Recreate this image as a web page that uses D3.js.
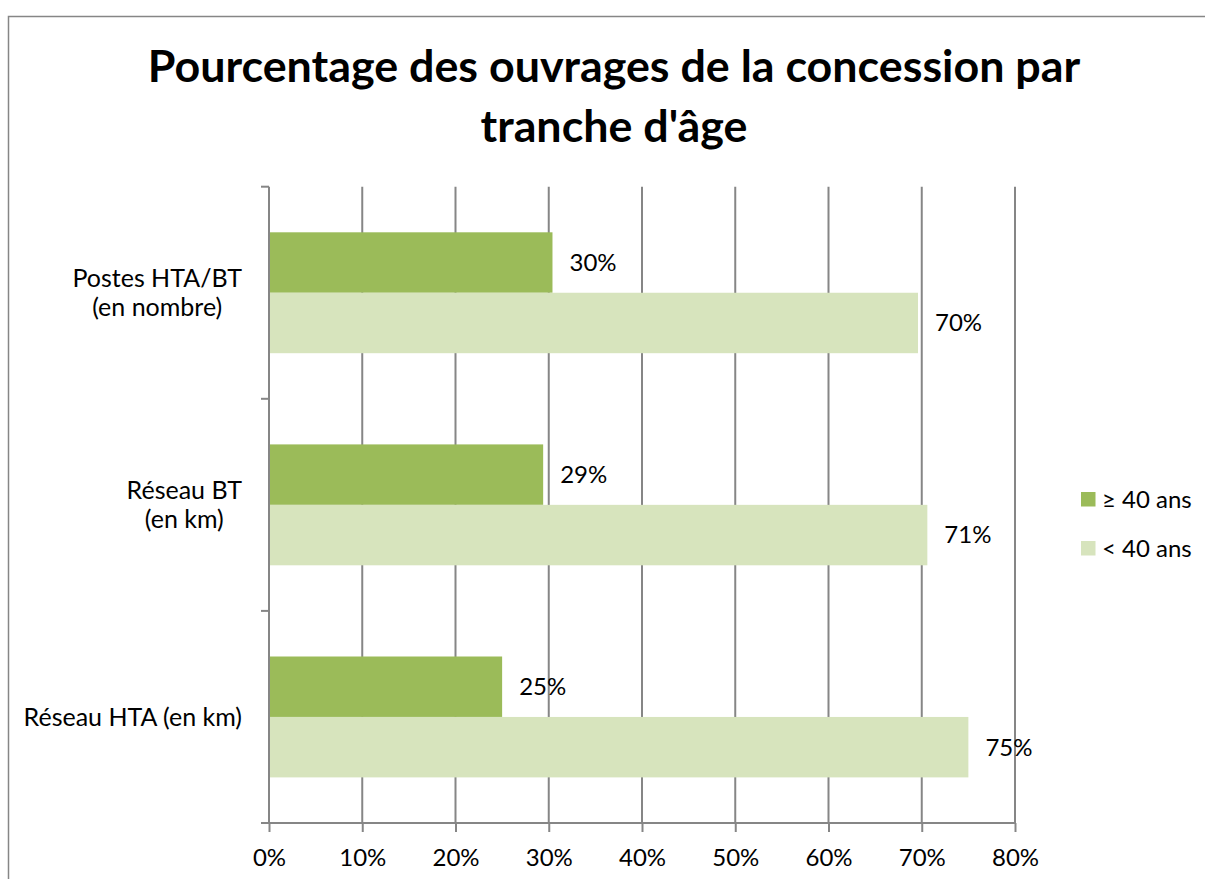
<!DOCTYPE html>
<html>
<head>
<meta charset="utf-8">
<script src="https://cdn.jsdelivr.net/npm/d3@7"></script>
<style>
  body { margin: 0; background: #fff; overflow: hidden; }
  svg { display: block; }
  text { font-family: Lato, "Open Sans", sans-serif; fill: #000; }
</style>
</head>
<body>
<div class="chart"></div>
<script>
// categories (top to bottom), line breaks as in the original labels
const categories = ["Postes HTA/BT\n(en nombre)", "Réseau BT\n(en km)", "Réseau HTA (en km)"]
const seriesNames = ["≥ 40 ans", "< 40 ans"]
const over40 = [0.304, 0.294, 0.25]
const under40 = [0.696, 0.706, 0.75]
const xTicks = [0, 0.1, 0.2, 0.3, 0.4, 0.5, 0.6, 0.7, 0.8]
const titleLines = ["Pourcentage des ouvrages de la concession par", "tranche d'âge"]

const W = 1205, H = 879
const plot = {left: 269, right: 1015, top: 186.7, bottom: 823}
const gridColor = "#868686"
const color = d3.scaleOrdinal().domain(seriesNames).range(["#9bbb59", "#d7e4bd"])

const data = categories.map((c, i) => ({
    category: c,
    values: [
        {name: seriesNames[0], value: over40[i]},
        {name: seriesNames[1], value: under40[i]}
    ]
}))

const svg = d3.select(".chart").append("svg")
    .attr("width", W)
    .attr("height", H)

// outer chart border (right and bottom edges fall outside the picture)
svg.append("rect")
    .attr("x", 8.5).attr("y", 16.5)
    .attr("width", W + 20).attr("height", H + 20)
    .attr("fill", "#fff")
    .attr("stroke", gridColor)
    .attr("stroke-width", 1.5)

// title
svg.append("text")
    .attr("text-anchor", "middle")
    .style("font-weight", "bold")
    .style("font-size", "44.8px")
    .selectAll("tspan")
    .data(titleLines)
    .enter().append("tspan")
        .attr("x", 614)
        .attr("y", (d, i) => 82 + i * 59.5)
        .text(d => d)

const x = d3.scaleLinear()
    .domain([0, 0.8])
    .range([plot.left, plot.right])

const y0 = d3.scaleBand()
    .domain(categories)
    .range([plot.top, plot.bottom])
    .paddingInner(0.43)
    .paddingOuter(0.215)

const y1 = d3.scaleBand()
    .domain(seriesNames)
    .range([0, y0.bandwidth()])

// vertical gridlines
svg.append("g")
    .selectAll("line")
    .data(xTicks.slice(1))
    .enter().append("line")
        .attr("x1", d => x(d)).attr("x2", d => x(d))
        .attr("y1", plot.top).attr("y2", plot.bottom)
        .attr("stroke", gridColor)
        .attr("stroke-width", 2)

// bars
const slice = svg.selectAll(".slice")
    .data(data)
    .enter().append("g")
    .attr("class", "slice")
    .attr("transform", d => "translate(0," + y0(d.category) + ")")

slice.selectAll("rect")
    .data(d => d.values)
    .enter().append("rect")
        .attr("x", x(0))
        .attr("y", d => y1(d.name))
        .attr("width", d => x(d.value) - x(0))
        .attr("height", y1.bandwidth())
        .attr("fill", d => color(d.name))

// data labels
slice.selectAll(".lbl")
    .data(d => d.values)
    .enter().append("text")
        .attr("class", "lbl")
        .attr("x", d => x(d.value) + 17)
        .attr("y", d => y1(d.name) + y1.bandwidth() / 2)
        .attr("dy", "0.35em")
        .style("font-size", "24px")
        .text(d => d3.format(".0%")(d.value))

// x axis
const xAxis = d3.axisBottom(x)
    .tickValues(xTicks)
    .tickFormat(d3.format(".0%"))
    .tickSize(9)
    .tickSizeOuter(0)

const gx = svg.append("g")
    .attr("transform", "translate(0," + plot.bottom + ")")
    .call(xAxis)
gx.select(".domain").attr("stroke", gridColor).attr("stroke-width", 2)
    .attr("d", "M" + (plot.left - 8) + ",0H" + plot.right)
gx.selectAll(".tick line").attr("stroke", gridColor).attr("stroke-width", 2)
gx.selectAll(".tick text")
    .attr("y", 26)
    .attr("dy", "0.71em")
    .style("font-size", "24px")
    .style("font-family", "Lato, sans-serif")
    .attr("fill", "#000")

// y axis: line plus tick marks at category boundaries
const yAxisG = svg.append("g")
yAxisG.append("line")
    .attr("x1", plot.left).attr("x2", plot.left)
    .attr("y1", plot.top).attr("y2", plot.bottom)
    .attr("stroke", gridColor).attr("stroke-width", 2)
yAxisG.selectAll(".ytick")
    .data(d3.range(categories.length + 1))
    .enter().append("line")
        .attr("class", "ytick")
        .attr("x1", plot.left - 8).attr("x2", plot.left)
        .attr("y1", i => plot.top + i * y0.step())
        .attr("y2", i => plot.top + i * y0.step())
        .attr("stroke", gridColor).attr("stroke-width", 2)

// category labels: centered lines, block right aligned
const catLabel = yAxisG.selectAll(".cat")
    .data(categories)
    .enter().append("text")
        .attr("class", "cat")
        .attr("text-anchor", "middle")
        .style("font-size", "25px")

catLabel.each(function(c) {
    const lines = c.split("\n")
    const t = d3.select(this)
    const cy = y0(c) + y0.bandwidth() / 2
    const lh = 29
    lines.forEach((l, i) => {
        t.append("tspan")
            .attr("y", cy + (i - (lines.length - 1) / 2) * lh)
            .attr("dy", "0.35em")
            .text(l)
    })
    const w = d3.max(t.selectAll("tspan").nodes(), n => n.getComputedTextLength())
    t.selectAll("tspan").attr("x", 242 - w / 2)
})

// legend
const legend = svg.selectAll(".legend")
    .data(seriesNames)
    .enter().append("g")
    .attr("class", "legend")
    .attr("transform", (d, i) => "translate(1081," + (492 + i * 49) + ")")

legend.append("rect")
    .attr("width", 14.5)
    .attr("height", 14.5)
    .attr("fill", d => color(d))

legend.append("text")
    .attr("x", 21)
    .attr("y", 7.5)
    .attr("dy", "0.35em")
    .style("font-size", "24px")
    .text(d => d)
</script>
</body>
</html>
